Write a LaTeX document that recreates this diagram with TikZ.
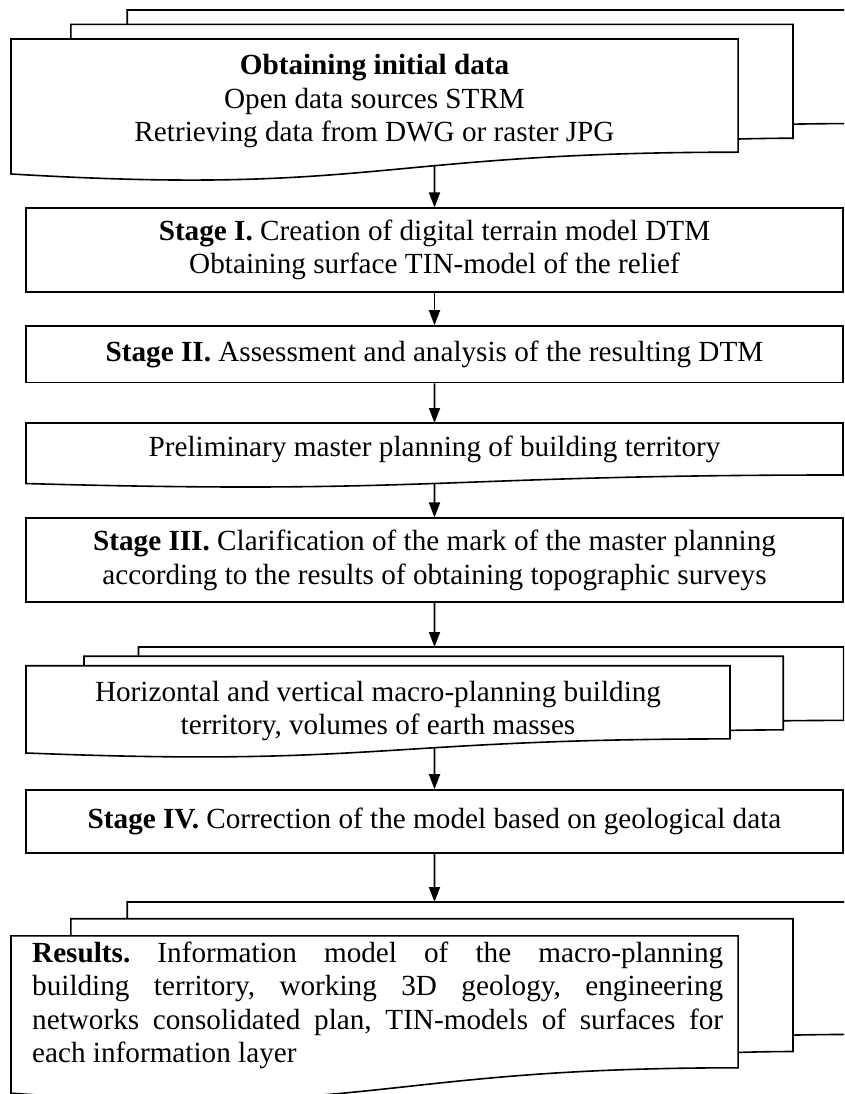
\documentclass[tikz,border=0pt]{standalone}
\usepackage{fontspec}
\setmainfont{Liberation Serif}
\usetikzlibrary{arrows.meta}
\newcommand\mainsize{\fontsize{29.2pt}{33.6pt}\selectfont\frenchspacing}
% three stacked sheets (front sheet closed, with a wavy lower edge), in 1/2160 units
\newcommand\stackedsheets{%
  \draw[outline] (297.2,181.5) -- (297.2,0) -- (2160,0) -- (2160,1439.2)
    .. controls (2080,1439.2) and (2000,1446.7) .. (2000,1446.7);
  \draw[outline] (153.2,367.5) -- (153.2,181.5) -- (2000,181.5) -- (2000,1625.2)
    .. controls (1929.8,1625.2) and (1859.5,1635.2) .. (1859.5,1635.2);
  \draw[sheet] (0,367.5) -- (1859.5,367.5) -- (1859.5,1802.2)
    .. controls (929.8,1802.2) and (929.8,2354.2) .. (0,2078.2) -- cycle;
}
\tikzset{
  outline/.style={draw=black, line width=1.6pt, line join=miter},
  sheet/.style={outline, fill=white},
  stagebox/.style={outline, fill=white, minimum width=817pt, inner sep=0pt,
    align=center, font=\mainsize},
  txt/.style={inner sep=0pt, font=\mainsize},
  flow/.style={line width=1.8pt, -{Triangle[length=15pt,width=11pt]}},
}
\begin{document}
\begin{tikzpicture}[x=1pt,y=-1pt]
\useasboundingbox (0,0) rectangle (844,1094);
\clip (0,0) rectangle (844,1094);
\fill[white] (0,0) rectangle (844,1094);

% source data
\begin{scope}[shift={(11,10)}, x=0.391pt, y=-0.0789pt]
  \stackedsheets
  \coordinate (srcout) at (1083.1,1973.5);
\end{scope}
\node[txt, anchor=base] (srcA) at (374.5,74.8) {\bfseries Obtaining initial data};
\node[txt, anchor=base] (srcB) at (374.5,108.4) {Open data sources STRM};
\node[txt, anchor=base] (srcC) at (374.5,142) {Retrieving data from DWG or raster JPG};

% stage I
\node[stagebox, minimum height=83.5pt] (st1) at (434.5,250)
  {\textbf{Stage I.} Creation of digital terrain model DTM\\Obtaining surface TIN-model of the relief};

% stage II
\node[stagebox, minimum height=56.5pt] (st2) at (434.5,354.25)
  {\textbf{Stage II.} Assessment and analysis of the resulting DTM};

% preliminary planning (document shape)
\begin{scope}[shift={(26,423)}, x=0.37824pt, y=-0.03002pt]
  \draw[sheet] (0,0) -- (2160,0) -- (2160,1732.2)
    .. controls (1080,1732.2) and (1080,2392.2) .. (0,2017.2) -- cycle;
  \coordinate (prelimin) at (1080,0);
  \coordinate (prelimout) at (1080,2015.3);
\end{scope}
\node[txt, anchor=base] (prelimtext) at (434.5,456.5)
  {Preliminary master planning of building territory};

% stage III
\node[stagebox, minimum height=84pt] (st3) at (434.5,560.25)
  {\textbf{Stage III.} Clarification of the mark of the master planning\\according to the results of obtaining topographic surveys};

% macro-planning
\begin{scope}[shift={(26,647)}, x=0.3786pt, y=-0.051pt]
  \stackedsheets
  \coordinate (macroin) at (1079,0);
  \coordinate (macroout) at (1079,1975.7);
\end{scope}
\node[txt, anchor=base] (macroA) at (378,701)
  {Horizontal and vertical macro-planning building};
\node[txt, anchor=base] (macroB) at (378,734.6)
  {territory, volumes of earth masses};

% stage IV
\node[stagebox, minimum height=63pt] (st4) at (434.5,821.5)
  {\textbf{Stage IV.} Correction of the model based on geological data};

% results
\begin{scope}[shift={(11,902)}, x=0.391pt, y=-0.092pt]
  \stackedsheets
  \coordinate (resin) at (1083.1,0);
\end{scope}
\node[txt, anchor=base west] (resA) at (32,962)
  {\hbox to 691pt{\textbf{Results.} Information model of the macro-planning}};
\node[txt, anchor=base west] (resB) at (32,995.6)
  {\hbox to 691pt{building territory, working 3D geology, engineering}};
\node[txt, anchor=base west] (resC) at (32,1029.2)
  {\hbox to 691pt{networks consolidated plan, TIN-models of surfaces for}};
\node[txt, anchor=base west] (resD) at (32,1062.8)
  {each information layer};

% connectors
\draw[flow] (srcout) -- (st1);
\draw[flow] (st1) -- (st2);
\draw[flow] (st2) -- (prelimin);
\draw[flow] (prelimout) -- (st3);
\draw[flow] (st3) -- (macroin);
\draw[flow] (macroout) -- (st4);
\draw[flow] (st4) -- (resin);
\end{tikzpicture}
\end{document}
